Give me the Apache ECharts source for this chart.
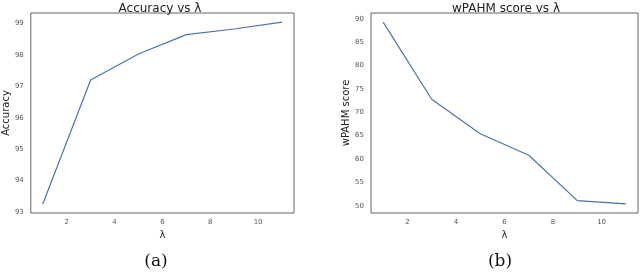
<!DOCTYPE html>
<html>
<head>
<meta charset="utf-8">
<script src="https://cdn.jsdelivr.net/npm/echarts@6/dist/echarts.min.js"></script>
<style>html,body{margin:0;padding:0;background:#fff;}#c{width:640px;height:272px;}</style>
</head>
<body>
<div id="c"></div>
<script>
var lambdas = [1, 3, 5, 7, 9, 11];
var accuracy = [93.25, 97.2, 98.03, 98.65, 98.83, 99.05];
var wpahm = [89.3, 72.8, 65.4, 60.8, 51.1, 50.4];
var xTicks = [2, 4, 6, 8, 10];
var accTicks = [93, 94, 95, 96, 97, 98, 99];
var scoreTicks = [50, 55, 60, 65, 70, 75, 80, 85, 90];
var titles = ['Accuracy vs λ', 'wPAHM score vs λ'];
var yNames = ['Accuracy', 'wPAHM score'];
var captions = ['(a)', '(b)'];

var lineColor = '#4c72b0';
var labelStyle = {color: '#555', fontSize: 7, fontFamily: 'DejaVu Sans'};

function xAxis(idx) {
  return {
    type: 'value', gridIndex: idx, min: 0.5, max: 11.5,
    name: 'λ', nameLocation: 'middle', nameGap: 10,
    nameTextStyle: {fontSize: 10, color: '#222', fontFamily: 'DejaVu Sans'},
    axisLine: {show: false}, axisTick: {show: false}, splitLine: {show: false},
    axisLabel: Object.assign({customValues: xTicks, margin: 6}, labelStyle)
  };
}
function yAxis(idx, min, max, ticks) {
  return {
    type: 'value', gridIndex: idx, min: min, max: max,
    name: yNames[idx], nameLocation: 'middle', nameGap: 18,
    nameTextStyle: {fontSize: 10, color: '#222', fontFamily: 'DejaVu Sans'},
    axisLine: {show: false}, axisTick: {show: false}, splitLine: {show: false},
    axisLabel: Object.assign({customValues: ticks, margin: 7}, labelStyle)
  };
}

var option = {
  animation: false,
  backgroundColor: '#fff',
  title: [
    {text: titles[0], left: 155, top: -2, textAlign: 'center', textStyle: {fontSize: 12, fontWeight: 'normal', color: '#222', fontFamily: 'DejaVu Sans'}},
    {text: titles[1], left: 501, top: -2, textAlign: 'center', textStyle: {fontSize: 12, fontWeight: 'normal', color: '#222', fontFamily: 'DejaVu Sans'}},
    {text: captions[0], left: 151, top: 248, textAlign: 'center', textStyle: {fontSize: 17, fontWeight: 'normal', color: '#111', fontFamily: 'DejaVu Serif'}},
    {text: captions[1], left: 495, top: 248, textAlign: 'center', textStyle: {fontSize: 17, fontWeight: 'normal', color: '#111', fontFamily: 'DejaVu Serif'}}
  ],
  grid: [
    {left: 26, top: 13, width: 268, height: 200, show: true, borderColor: '#666', borderWidth: 1, backgroundColor: '#fff'},
    {left: 371, top: 13, width: 267, height: 200, show: true, borderColor: '#666', borderWidth: 1, backgroundColor: '#fff'}
  ],
  xAxis: [xAxis(0), xAxis(1)],
  yAxis: [yAxis(0, 92.96, 99.34, accTicks), yAxis(1, 48.45, 91.25, scoreTicks)],
  series: [
    {type: 'line', xAxisIndex: 0, yAxisIndex: 0, data: lambdas.map(function (l, i) { return [l, accuracy[i]]; }),
     symbol: 'none', lineStyle: {color: lineColor, width: 1.2}},
    {type: 'line', xAxisIndex: 1, yAxisIndex: 1, data: lambdas.map(function (l, i) { return [l, wpahm[i]]; }),
     symbol: 'none', lineStyle: {color: lineColor, width: 1.2}}
  ]
};
var chart = echarts.init(document.getElementById('c'), null, {renderer: 'canvas'});
chart.setOption(option);
</script>
</body>
</html>
